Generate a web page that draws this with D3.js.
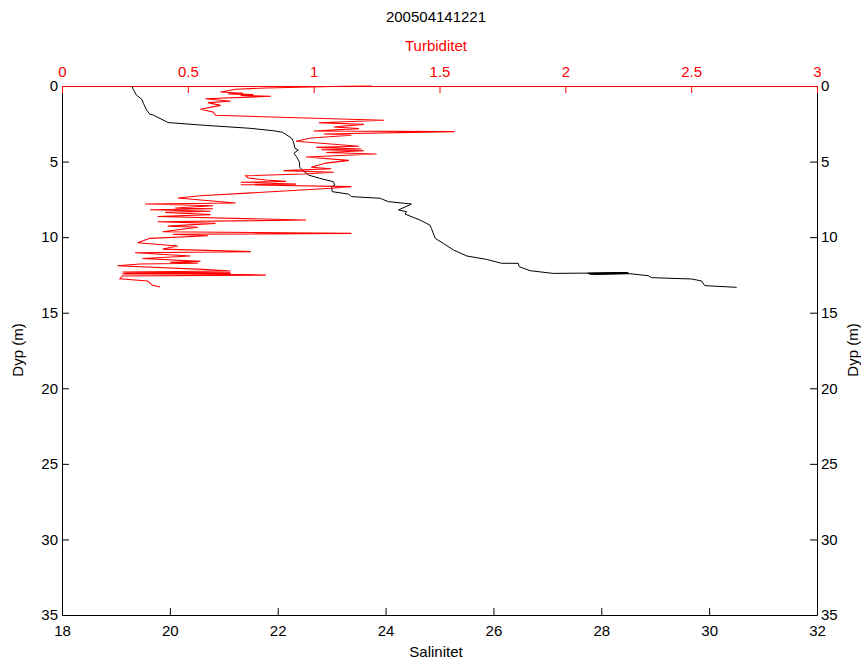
<!DOCTYPE html>
<html><head><meta charset="utf-8">
<script src="https://cdn.jsdelivr.net/npm/d3@7"></script>
<style>body{margin:0;background:#fff}svg text{font-family:"Liberation Sans",Arial,sans-serif}</style>
</head><body><svg id="c" width="861" height="662"></svg>
<script>
const title = "200504141221";
const salTicks = [18,20,22,24,26,28,30,32];
const turbTicks = [0,0.5,1,1.5,2,2.5,3];
const depthTicks = [0,5,10,15,20,25,30,35];
// [depth, salinity]
const salinity = [
[0,19.30],[0.22,19.32],[0.60,19.38],[0.88,19.48],[1.15,19.51],[1.59,19.57],[1.87,19.63],[1.92,19.69],
[2.42,19.97],[2.58,20.56],[2.80,21.49],[2.96,21.92],[3.06,22.09],[3.46,22.26],[3.68,22.29],[4.12,22.32],
[4.24,22.38],[4.45,22.30],[4.68,22.35],[5.01,22.40],[5.38,22.41],[5.60,22.47],[5.89,22.57],[6.11,22.78],
[6.33,23.03],[6.55,23.06],[6.66,23.00],[6.99,23.01],[7.15,23.31],[7.32,23.37],[7.43,23.90],[7.65,24.05],
[7.81,24.48],[8.20,24.24],[8.32,24.39],[8.47,24.36],[8.87,24.64],[9.20,24.82],[9.42,24.85],[10.08,24.92],
[10.41,25.07],[10.85,25.26],[11.25,25.51],[11.47,25.87],[11.73,26.15],[11.73,26.46],[11.96,26.48],[12.22,26.68],
[12.40,27.11],[12.38,27.70],[12.34,28.48],[12.40,27.75],[12.36,28.50],[12.44,27.78],[12.38,28.46],[12.42,27.80],
[12.40,28.50],[12.46,27.85],[12.42,28.53],[12.55,28.87],
[12.68,28.93],[12.77,29.68],[12.90,29.86],[13.21,29.92],[13.32,30.51]
];
// [depth, turbidity]
const turbidity = [
[0.00,1.23],[0.02,1.12],[0.13,0.81],[0.22,0.69],[0.40,0.63],[0.48,0.72],[0.52,0.66],[0.57,0.76],[0.62,0.71],
[0.68,0.83],[0.84,0.57],[1.01,0.67],[1.10,0.58],[1.28,0.63],[1.54,0.55],[1.72,0.60],[1.94,0.61],[2.27,1.28],
[2.43,1.02],[2.54,1.20],[2.71,1.08],[2.82,1.18],[2.98,1.00],[3.02,1.56],[3.18,1.04],[3.26,1.15],[3.44,0.99],
[3.66,0.93],[3.99,1.18],[4.06,1.01],[4.17,1.19],[4.22,1.03],[4.28,1.20],[4.40,1.05],[4.50,1.25],[4.70,0.97],
[4.92,1.14],[5.10,1.05],[5.38,0.99],[5.47,1.07],[5.60,0.88],[5.71,1.08],[5.82,0.96],[5.94,0.73],[6.09,0.74],
[6.22,0.81],[6.31,0.89],[6.37,0.71],[6.49,0.93],[6.53,0.71],[6.66,1.15],[6.77,1.07],[7.26,0.55],[7.41,0.46],
[7.74,0.69],[7.81,0.33],[7.92,0.60],[8.07,0.45],[8.12,0.60],[8.19,0.35],[8.29,0.59],[8.36,0.41],[8.51,0.59],
[8.63,0.38],[8.87,0.97],[8.98,0.38],[9.09,0.61],[9.27,0.42],[9.35,0.54],[9.64,0.40],[9.75,1.15],[9.81,0.44],
[9.91,0.58],[10.08,0.35],[10.37,0.30],[10.59,0.46],[10.79,0.40],[10.96,0.75],[11.03,0.29],[11.25,0.51],
[11.41,0.32],[11.60,0.55],[11.67,0.43],[11.73,0.54],[11.78,0.31],[11.89,0.22],[12.13,0.56],[12.24,0.67],
[12.31,0.24],[12.36,0.67],[12.39,0.25],[12.41,0.67],[12.43,0.24],[12.46,0.67],[12.51,0.81],[12.57,0.24],
[12.75,0.23],[12.90,0.34],[13.19,0.36],[13.30,0.39]
];

const L=62,R=817,T=86,B=615;
const svg=d3.select("#c");
const xS=d3.scaleLinear().domain([18,32]).range([L,R]);
const xT=d3.scaleLinear().domain([0,3]).range([L,R]);
const y=d3.scaleLinear().domain([0,35]).range([T,B]);
const fs=15;

const gb=svg.append("g").attr("transform",`translate(0,${B})`)
  .call(d3.axisBottom(xS).tickValues(salTicks).tickFormat(d3.format("d")).tickSizeInner(-7).tickSizeOuter(0).tickPadding(10));
const gl=svg.append("g").attr("transform",`translate(${L},0)`)
  .call(d3.axisLeft(y).tickValues(depthTicks).tickSizeInner(-7).tickSizeOuter(0).tickPadding(4));
const gr=svg.append("g").attr("transform",`translate(${R},0)`)
  .call(d3.axisRight(y).tickValues(depthTicks).tickSizeInner(-7).tickSizeOuter(0).tickPadding(4));
[gb,gl,gr].forEach(g=>{g.selectAll("path.domain").attr("stroke","#000");g.selectAll("line").attr("stroke","#000");
  g.selectAll("text").attr("fill","#000").style("font-size",fs+"px");});
gb.selectAll("text").attr("dy","0.71em");
const gt=svg.append("g").attr("transform",`translate(0,${T})`)
  .call(d3.axisTop(xT).tickValues(turbTicks).tickFormat(d=>String(d)).tickSizeInner(-7).tickSizeOuter(0).tickPadding(9));
gt.selectAll("path.domain").attr("stroke","#f00");
gt.selectAll("line").attr("stroke","#f00");
gt.selectAll("text").attr("fill","#f00").style("font-size",fs+"px");

svg.append("path").datum(salinity).attr("fill","none").attr("stroke","#000").attr("stroke-width",1)
  .attr("d",d3.line().x(d=>xS(d[1])).y(d=>y(d[0])));
svg.append("path").datum(turbidity).attr("fill","none").attr("stroke","#f00").attr("stroke-width",1.1)
  .attr("d",d3.line().x(d=>xT(d[1])).y(d=>y(d[0])));

svg.append("text").attr("x",436).attr("y",22).attr("text-anchor","middle").style("font-size",fs+"px").text(title);
svg.append("text").attr("x",436).attr("y",51).attr("text-anchor","middle").attr("fill","#f00").style("font-size",fs+"px").text("Turbiditet");
svg.append("text").attr("x",436).attr("y",657).attr("text-anchor","middle").style("font-size",fs+"px").text("Salinitet");
svg.append("text").attr("transform","translate(23,350) rotate(-90)").attr("text-anchor","middle").style("font-size",fs+"px").text("Dyp (m)");
svg.append("text").attr("transform","translate(858,350) rotate(-90)").attr("text-anchor","middle").style("font-size",fs+"px").text("Dyp (m)");
</script></body></html>
